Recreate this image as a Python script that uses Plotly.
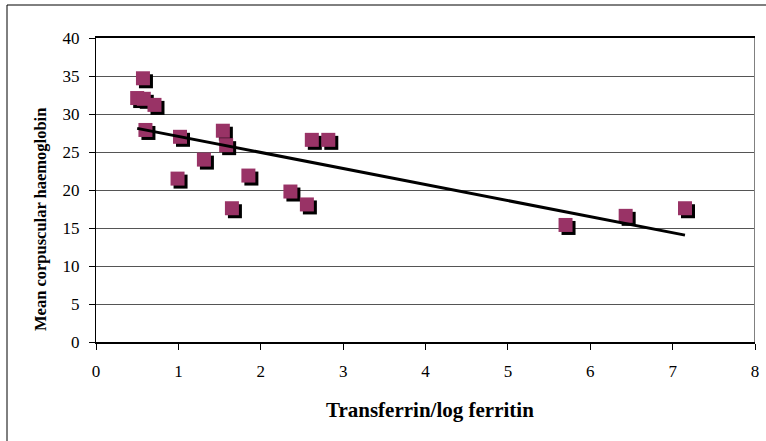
import numpy as np
import plotly.graph_objects as go

# Data
transferrin_log_ferritin = [0.57, 0.50, 0.58, 0.71, 0.60, 1.02, 1.54, 1.58, 1.31, 0.99,
                            1.85, 1.65, 2.62, 2.82, 2.36, 2.56, 5.70, 6.43, 7.15]
mean_corpuscular_hb = [34.7, 32.1, 32.0, 31.2, 27.9, 27.0, 27.8, 25.9, 24.0, 21.5,
                       21.9, 17.6, 26.6, 26.6, 19.8, 18.1, 15.4, 16.6, 17.6]
x_ticks = [0, 1, 2, 3, 4, 5, 6, 7, 8]
y_ticks = [0, 5, 10, 15, 20, 25, 30, 35, 40]
x_title = "Transferrin/log ferritin"
y_title = "Mean corpuscular haemoglobin"

# Linear trend line (least squares) across the data's x span
slope, intercept = np.polyfit(transferrin_log_ferritin, mean_corpuscular_hb, 1)
trend_x = [min(transferrin_log_ferritin), max(transferrin_log_ferritin)]
trend_y = [slope * v + intercept for v in trend_x]

W, H = 766, 441
ML, MR, MT, MB = 96, 8, 38, 96
PW, PH = W - ML - MR, H - MT - MB
SH = 3  # shadow offset in px

def px_x(p):
    return (p - ML) / PW

def px_y(p):
    return (H - MB - p) / PH

main_xdom = [0, 1 - SH / PW]
main_ydom = [SH / PH, 1]
shad_xdom = [SH / PW, 1]
shad_ydom = [0, 1 - SH / PH]

FONT = "Liberation Serif"
PLUM = "#993366"

fig = go.Figure()

# shadow markers
fig.add_trace(go.Scatter(
    x=transferrin_log_ferritin, y=mean_corpuscular_hb, mode="markers",
    marker=dict(symbol="square", size=14, color="black", line=dict(width=0)),
    xaxis="x2", yaxis="y2", hoverinfo="skip", showlegend=False))

# markers
fig.add_trace(go.Scatter(
    x=transferrin_log_ferritin, y=mean_corpuscular_hb, mode="markers",
    marker=dict(symbol="square", size=14, color=PLUM, line=dict(width=0)),
    xaxis="x3", yaxis="y3", showlegend=False))

# trend line
fig.add_trace(go.Scatter(
    x=trend_x, y=trend_y, mode="lines",
    line=dict(color="black", width=3),
    xaxis="x3", yaxis="y3", showlegend=False))

hidden = dict(showgrid=False, zeroline=False, showline=False, showticklabels=False,
              ticks="", automargin=False)

fig.update_layout(
    width=W, height=H,
    margin=dict(l=ML, r=MR, t=MT, b=MB, autoexpand=False),
    paper_bgcolor="white", plot_bgcolor="rgba(0,0,0,0)",
    showlegend=False,
    font=dict(family=FONT, size=17, color="black"),
    xaxis=dict(domain=main_xdom, anchor="y", range=[0, 8], tickvals=x_ticks,
               ticks="outside", ticklen=6, tickcolor="black", tickwidth=1,
               showline=True, linecolor="black", linewidth=1.5, mirror=True,
               showgrid=False, zeroline=False, ticklabelstandoff=7, automargin=False,
               tickfont=dict(family=FONT, size=17, color="black")),
    yaxis=dict(domain=main_ydom, anchor="x", range=[0, 40], tickvals=y_ticks,
               ticks="outside", ticklen=6, tickcolor="black", tickwidth=1,
               showline=True, linecolor="black", linewidth=1,
               showgrid=True, gridcolor="#555555", gridwidth=1, zeroline=False,
               ticklabelstandoff=6, automargin=False,
               tickfont=dict(family=FONT, size=17, color="black")),
    xaxis2=dict(domain=shad_xdom, anchor="y2", range=[0, 8], **hidden),
    yaxis2=dict(domain=shad_ydom, anchor="x2", range=[0, 40], **hidden),
    xaxis3=dict(domain=main_xdom, anchor="y3", range=[0, 8], **hidden),
    yaxis3=dict(domain=main_ydom, anchor="x3", range=[0, 40], **hidden),
    annotations=[
        dict(text="<b>" + x_title + "</b>", xref="paper", yref="paper",
             x=px_x(430), y=px_y(410), xanchor="center", yanchor="middle",
             showarrow=False, font=dict(family=FONT, size=21, color="black")),
        dict(text="<b>" + y_title + "</b>", xref="paper", yref="paper",
             x=px_x(40), y=px_y(220), xanchor="center", yanchor="middle",
             textangle=-90, showarrow=False,
             font=dict(family=FONT, size=16.5, color="black")),
    ],
    shapes=[
        # right border of the plot area (grey)
        dict(type="line", xref="x", yref="y", x0=8, x1=8, y0=0, y1=40,
             line=dict(color="#808080", width=2)),
        # outer chart border
        dict(type="rect", xref="paper", yref="paper",
             x0=px_x(7), x1=px_x(W + 5), y0=px_y(H + 5), y1=px_y(5),
             line=dict(color="black", width=1), layer="below"),
    ],
)

fig.write_html(
    "out.html",
    config={"displayModeBar": False},
    post_script="document.body.style.margin='0';document.body.style.padding='0';"
                "document.body.style.overflow='hidden';",
)
